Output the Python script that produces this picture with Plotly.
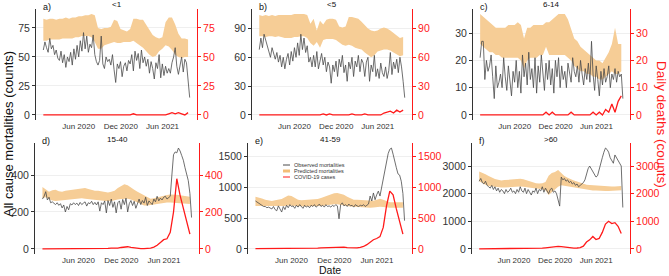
import plotly.graph_objects as go
import pandas as pd

# ---------------- data ----------------
start = pd.Timestamp("2019-12-30")
weeks = pd.date_range(start, periods=92, freq="7D")
biweeks = weeks[::2]

tick_dates = ["2020-06-01", "2020-12-01", "2021-06-01"]
tick_text = ["Jun 2020", "Dec 2020", "Jun 2021"]

groups = ["<1", "<5", "6-14", "15-40", "41-59", ">60"]
letters = ["a)", "b)", "c)", "d)", "e)", "f)"]
yticks = [[0, 25, 50, 75], [0, 30, 60, 90], [0, 10, 20, 30],
          [0, 200, 400], [0, 500, 1000, 1500], [0, 1000, 2000, 3000]]

obs_a = [56,63,58,54,66,57,60,52,56,49,47,
         55,45,52,41,50,46,54,43,57,48,60,
         50,64,55,71,57,68,54,61,58,69,52,46,
         43,47,68,44,40,50,46,48,43,52,39,
         28,44,40,46,33,42,45,38,47,44,52,
         38,55,47,53,40,56,45,50,42,48,36,
         46,40,31,45,40,52,32,44,34,42,36,
         40,36,45,50,58,42,35,44,50,37,48,45,30,15]
hi_a = [83,82,83,83,82,83,83,84,83,84, 84,85,85,86,86,87,86,75,74,75,
        75,76,82,81,74,73,72,74,83,83, 82,82,78,73,69,67,66,67,80,84,
        84,78,70,66,66,65]
lo_a = [64,64,65,65,65,65,66,66,66,66, 67,67,68,68,68,67,63,57,57,60,
        61,62,63,62,62,63,63,63,64,62, 60,58,55,52,50,51,55,57,60,59,
        56,52,50,49,50,50]
cov_a = [0,0,0,0,0,0,0,0,0,0, 0,0,0,0,0,0,0,0,0,0, 0,0,0,0,0,0,0,0,1,0,
         0,0,0,0,0,0,0,0,0,1, 2,1,2,1,0,2]

obs_b = [68,80,70,84,78,72,66,60,70,64,58,
         65,55,62,50,60,48,58,64,52,66,56,
         70,60,75,62,84,68,80,65,72,55,60,50,
         62,50,66,48,58,64,52,60,45,55,50,
         33,52,45,56,40,58,50,62,44,52,35,
         55,48,60,40,56,50,62,45,58,54,40,
         55,60,35,52,45,62,40,48,38,54,44,
         40,50,38,46,65,42,55,48,58,44,60,50,35,18]
hi_b = [104,103,104,103,104,103,104,104,104,104, 104,105,105,105,105,104,95,100,88,98,
        94,99,100,100,99,92,91,92,102,102, 101,100,97,93,90,88,87,88,90,91,
        90,88,85,82,80,81]
lo_b = [82,82,81,82,82,81,82,81,80,80, 80,81,81,82,82,80,75,72,76,70,
        78,79,79,79,78,75,73,72,73,72, 70,69,68,65,62,60,62,66,67,68,
        68,67,65,63,61,62]
cov_b = [0,0,0,0,0,0,0,0,0,0, 0,0,0,0,0,0,0,0,0,0, 1,0,1,0,0,0,0,0,0,1,
         0,0,0,1,0,0,0,0,0,2, 3,4,2,5,3,5]

obs_c = [21,27,27,13,20,16,18,22,14,6,18,
         10,12,15,10,21,14,9,18,12,7,16,
         12,20,10,16,8,22,14,19,11,23,13,17,
         10,21,8,18,12,22,15,9,19,13,20,
         11,17,8,20,14,21,10,18,13,16,10,
         19,15,12,21,16,14,18,12,20,15,11,
         17,13,19,12,27,15,9,18,13,7,16,
         11,17,12,14,18,10,15,13,17,12,16,14,15,6]
hi_c = [37,36,35,34,33,32,32,32,32,33, 33,33,34,33,28,32,32,33,33,33,
        33,34,34,35,36,37,37,37,35,31, 28,27,25,24,23,22,21,20,20,19,
        21,23,26,32,26,26]
lo_c = [26,25,24,23,23,22,22,21,21,21, 21,21,21,20,17,20,21,21,21,22,
        22,25,22,22,22,22,22,22,21,20, 18,17,16,16,15,15,14,14,13,13,
        14,15,16,15,15,16]
cov_c = [0,0,0,0,0,0,0,0,0,0, 0,0,0,0,0,0,0,0,0,0, 0,1,0,1,0,0,0,0,0,1,
         0,0,0,0,0,0,1,0,1,0, 2,1,4,1,5,7]

obs_d = [270,285,310,265,280,250,255,248,240,250,236,
         245,222,238,200,230,212,245,238,250,240,248,
         235,252,240,248,255,232,250,245,258,240,252,238,
         255,205,250,240,260,195,262,235,270,225,255,
         195,250,260,215,268,240,275,200,245,262,235,
         258,220,250,270,240,262,248,280,235,260,250,
         240,270,255,285,260,275,265,280,285,270,280,
         285,400,510,525,520,546,530,505,480,440,410,370,300,170]
hi_d = [335,320,310,318,320,312,310,315,318,320, 322,325,328,330,325,320,315,315,312,310,
        305,310,315,330,340,350,345,330,320,310, 300,290,280,272,275,280,285,290,292,294,
        295,293,290,288,285,283]
lo_d = [275,280,270,262,260,262,265,268,270,272, 275,276,275,272,270,268,265,262,262,260,
        258,260,265,268,270,272,272,268,260,250, 240,235,235,238,242,245,248,250,252,252,
        250,248,246,245,244,243]
cov_d = [0,0,0,2,3,2,1,1,1,1, 1,1,1,1,1,1,1,2,2,2, 3,5,4,5,8,10,12,8,5,3,
         2,2,3,5,10,20,35,50,55,90, 200,380,290,220,150,80]

obs_e = [780,760,740,720,700,690,690,670,680,660,650,
         690,640,620,700,650,600,690,640,710,670,720,
         690,700,660,710,680,720,690,660,710,680,700,670,
         710,690,720,680,700,730,690,710,680,720,690,
         700,680,710,690,720,700,490,720,750,700,720,
         690,730,700,710,680,720,700,690,710,700,720,
         690,710,730,860,780,910,800,880,940,860,1000,
         1100,1250,1400,1550,1620,1640,1540,1450,1320,1220,1200,1100,900,460]
hi_e = [850,840,820,800,790,780,790,800,810,840, 870,860,830,800,790,795,800,805,800,810,
        830,850,870,890,905,910,900,880,850,820, 800,800,795,790,785,780,785,800,815,800,
        775,760,760,760,758,760]
lo_e = [700,700,695,690,690,688,690,692,695,700, 705,700,695,690,690,692,695,695,692,695,
        700,705,715,720,725,725,720,710,700,690, 685,680,678,675,672,670,672,680,685,680,
        672,670,668,668,668,668]
cov_e = [5,5,5,8,10,8,5,5,5,5, 5,5,6,6,8,10,10,12,15,15, 18,20,22,25,30,35,38,30,22,18,
         15,18,25,40,70,110,150,170,200,350, 700,940,880,650,420,240]

obs_f = [2450,2550,2400,2350,2450,2300,2250,2200,2300,2150,2250,
         2100,2200,2050,2150,2100,2000,2150,2050,2100,2200,2050,
         2100,2000,2150,2050,2250,2100,2050,2200,2000,2150,2050,1950,
         2100,2050,2200,2000,2150,2100,2250,2050,2200,2100,2000,
         2150,2200,2050,2100,2000,1800,1550,2600,2500,2550,2450,
         2500,2400,2450,2350,2400,2300,2350,2250,2300,2350,2400,
         2500,2700,2900,3000,2900,2800,2700,2600,2650,2900,3100,
         3300,3500,3650,3600,3500,3300,3200,3100,3400,3300,3200,3100,3000,1500]
hi_f = [2800,2760,2700,2640,2580,2530,2500,2480,2490,2500, 2520,2540,2550,2540,2520,2480,2440,2400,2380,2370,
        2380,2420,2650,2750,2780,2860,2740,2640,2580,2520, 2480,2440,2400,2350,2320,2310,2300,2290,2280,2270,
        2270,2270,2260,2260,2270,2280]
lo_f = [2450,2380,2320,2280,2260,2240,2230,2220,2220,2230, 2240,2250,2260,2260,2250,2230,2210,2200,2190,2180,
        2160,2120,1950,2050,2150,2250,2300,2280,2260,2240, 2220,2200,2170,2150,2130,2120,2110,2110,2100,2100,
        2100,2100,2100,2100,2110,2120]
cov_f = [5,5,8,10,10,8,5,5,5,5, 8,8,10,12,15,15,18,20,22,25, 30,40,55,70,80,90,85,70,50,35,
         30,35,50,100,250,330,450,340,380,600, 900,1000,920,950,820,560]

obs_all = [obs_a, obs_b, obs_c, obs_d, obs_e, obs_f]
hi_all = [hi_a, hi_b, hi_c, hi_d, hi_e, hi_f]
lo_all = [lo_a, lo_b, lo_c, lo_d, lo_e, lo_f]
cov_all = [cov_a, cov_b, cov_c, cov_d, cov_e, cov_f]

# ---------------- layout helpers ----------------
W, H = 669, 276
FONT = "Liberation Sans, Arial, sans-serif"
BAND = "#F6CD96"
OBS = "#4a4a4a"
RED = "#FF1A1A"
TICK = 10.5


def px(x):
    return x / W


def py(y):
    return 1 - y / H


xdoms = [(36, 197), (252, 412), (473, 630), (35, 199), (248, 412), (472, 630)]
ydoms = [(9, 120)] * 3 + [(143, 254)] * 3

span = weeks[-1] - weeks[0]
pad = span * 0.05
xrange_ = [weeks[0] - pad, weeks[-1] + pad]

fig = go.Figure()
layout = {}
annotations = []

for k in range(6):
    i = k + 1
    xa = "x" if i == 1 else f"x{i}"
    ya = "y" if i == 1 else f"y{i}"
    yr = f"y{i + 6}"
    fig.add_trace(go.Scatter(x=biweeks, y=lo_all[k], mode="lines", line=dict(width=0, color=BAND),
                             xaxis=xa, yaxis=ya, showlegend=False, hoverinfo="skip"))
    fig.add_trace(go.Scatter(x=biweeks, y=hi_all[k], mode="lines", line=dict(width=0, color=BAND),
                             fill="tonexty", fillcolor=BAND, xaxis=xa, yaxis=ya, showlegend=False,
                             name="Predicted mortalities"))
    fig.add_trace(go.Scatter(x=weeks, y=obs_all[k], mode="lines", line=dict(width=0.8, color=OBS),
                             xaxis=xa, yaxis=ya, showlegend=False, name="Observed mortalities"))
    fig.add_trace(go.Scatter(x=biweeks, y=cov_all[k], mode="lines", line=dict(width=1.3, color=RED),
                             xaxis=xa, yaxis=yr, showlegend=False, name="COVID-19 cases"))

    vmax = max(max(obs_all[k]), max(hi_all[k]), max(cov_all[k]))
    yrng = [-0.05 * vmax, 1.05 * vmax]
    x0, x1 = xdoms[k]
    yt, yb = ydoms[k]
    xdom = [px(x0), px(x1)]
    ydom = [py(yb), py(yt)]

    layout["xaxis" if i == 1 else f"xaxis{i}"] = dict(
        domain=xdom, anchor=ya, type="date", range=xrange_,
        tickvals=tick_dates, ticktext=tick_text, showgrid=False, showline=False,
        zeroline=False, ticks="", tickfont=dict(size=8, color="#333", family=FONT))
    layout["yaxis" if i == 1 else f"yaxis{i}"] = dict(
        domain=ydom, anchor=xa, range=yrng, tickvals=yticks[k], showline=True,
        linecolor="#333", linewidth=1, ticks="outside", ticklen=3, tickcolor="#333",
        showgrid=True, gridcolor="#efefef", gridwidth=0.7, zeroline=False,
        tickfont=dict(size=TICK, color="#333", family=FONT))
    layout[f"yaxis{i + 6}"] = dict(
        overlaying=ya, side="right", anchor=xa, range=yrng, tickvals=yticks[k],
        showline=True, linecolor=RED, linewidth=1, ticks="outside", ticklen=3,
        tickcolor=RED, showgrid=False, zeroline=False,
        tickfont=dict(size=TICK, color=RED, family=FONT))

    # panel letter and title
    annotations.append(dict(text=letters[k], x=px(x0 + 5), y=py(yt - 2), xref="paper", yref="paper",
                            xanchor="left", yanchor="middle", showarrow=False,
                            font=dict(size=9, color="#111", family=FONT)))
    annotations.append(dict(text=groups[k], x=px((x0 + x1) / 2), y=py(yt - 4), xref="paper", yref="paper",
                            xanchor="center", yanchor="middle", showarrow=False,
                            font=dict(size=8, color="#111", family=FONT)))

# axis titles
annotations.append(dict(text="All cause mortalities (counts)", x=px(9), y=py(134), xref="paper", yref="paper",
                        textangle=-90, showarrow=False, xanchor="center", yanchor="middle",
                        font=dict(size=13, color="#111", family=FONT)))
annotations.append(dict(text="Daily deaths (counts)", x=px(662), y=py(124), xref="paper", yref="paper",
                        textangle=90, showarrow=False, xanchor="center", yanchor="middle",
                        font=dict(size=13.5, color=RED, family=FONT)))
annotations.append(dict(text="Date", x=px(330), y=py(270), xref="paper", yref="paper",
                        showarrow=False, xanchor="center", yanchor="middle",
                        font=dict(size=10.5, color="#111", family=FONT)))

# in-panel legend (panel e)
legend_items = [("Observed mortalities", OBS, 1), ("Predicted mortalities", "#F3BE78", 3),
                ("COVID-19 cases", RED, 1)]
shapes = []
for j, (lab, col, wd) in enumerate(legend_items):
    yy = 165 + 6 * j
    shapes.append(dict(type="line", xref="paper", yref="paper", x0=px(283), x1=px(290),
                       y0=py(yy), y1=py(yy), line=dict(color=col, width=wd)))
    annotations.append(dict(text=lab, x=px(292), y=py(yy), xref="paper", yref="paper",
                            xanchor="left", yanchor="middle", showarrow=False,
                            font=dict(size=5.5, color="#333", family=FONT)))

fig.update_layout(**layout)
fig.update_layout(width=W, height=H, margin=dict(l=0, r=0, t=0, b=0),
                  paper_bgcolor="white", plot_bgcolor="white",
                  annotations=annotations, shapes=shapes, showlegend=False,
                  font=dict(family=FONT))

fig.write_html("out.html", config={"displayModeBar": False},
               post_script="document.body.style.margin='0px';document.body.style.padding='0px';")
